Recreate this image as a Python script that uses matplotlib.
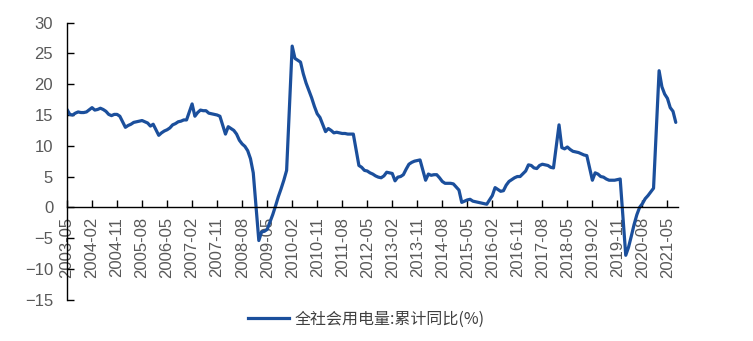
import matplotlib
matplotlib.use('Agg')
import matplotlib.pyplot as plt
from matplotlib.lines import Line2D
from matplotlib.font_manager import FontProperties
import pandas as pd

series_name = '全社会用电量:累计同比(%)'
start_month = '2003-05'
end_month = '2021-08'

# cumulative YoY growth (%), January has no separate value (Jan-Feb combined)
cum_yoy = [
    15.9, 15.1, 15.0, 15.3, 15.5, 15.4, 15.4, 15.5,                     # 2003 May-Dec
    16.2, 15.8, 15.9, 16.1, 15.9, 15.6, 15.1, 14.9, 15.1, 15.1, 14.8,   # 2004
    13.0, 13.3, 13.5, 13.8, 13.9, 14.0, 14.1, 13.9, 13.7, 13.2, 13.5,   # 2005
    11.7, 12.1, 12.4, 12.6, 12.9, 13.4, 13.6, 13.9, 14.0, 14.2, 14.2,   # 2006
    16.8, 14.8, 15.4, 15.8, 15.7, 15.7, 15.3, 15.2, 15.1, 15.0, 14.8,   # 2007
    11.9, 13.1, 12.8, 12.5, 11.9, 10.9, 10.3, 9.9, 9.2, 7.9, 5.6,       # 2008
    -5.4, -4.0, -3.9, -3.6, -2.4, -1.2, 0.2, 1.7, 3.0, 4.4, 6.0,        # 2009
    26.2, 24.2, 23.9, 23.6, 21.7, 20.2, 19.0, 17.8, 16.4, 15.2, 14.6,   # 2010
    12.3, 12.8, 12.5, 12.1, 12.2, 12.1, 12.0, 12.0, 11.9, 11.9, 11.9,   # 2011
    6.8, 6.5, 6.0, 5.9, 5.6, 5.4, 5.1, 4.9, 4.8, 5.1, 5.7,              # 2012
    5.5, 4.3, 4.9, 5.0, 5.3, 6.2, 7.0, 7.3, 7.5, 7.6, 7.7,              # 2013
    4.4, 5.4, 5.2, 5.3, 5.3, 4.8, 4.2, 3.9, 3.9, 3.9, 3.8,              # 2014
    2.8, 0.8, 1.0, 1.2, 1.3, 1.0, 0.9, 0.8, 0.7, 0.6, 0.5,              # 2015
    1.9, 3.2, 2.9, 2.6, 2.7, 3.6, 4.2, 4.5, 4.8, 5.0, 5.0,              # 2016
    5.9, 6.9, 6.8, 6.4, 6.3, 6.8, 7.0, 6.9, 6.8, 6.5, 6.4,              # 2017
    13.4, 9.7, 9.5, 9.8, 9.4, 9.1, 9.0, 8.9, 8.7, 8.5, 8.4,             # 2018
    4.4, 5.6, 5.4, 5.0, 4.9, 4.6, 4.4, 4.4, 4.4, 4.5, 4.6,              # 2019
    -7.8, -6.5, -4.7, -2.8, -1.2, 0.0, 0.6, 1.4, 1.9, 2.5, 3.1,         # 2020
    22.2, 19.6, 18.4, 17.7, 16.2, 15.6, 13.8,                           # 2021 Feb-Aug
]

tick_labels = ['2003-05', '2004-02', '2004-11', '2005-08', '2006-05', '2007-02',
               '2007-11', '2008-08', '2009-05', '2010-02', '2010-11', '2011-08',
               '2012-05', '2013-02', '2013-11', '2014-08', '2015-05', '2016-02',
               '2016-11', '2017-08', '2018-05', '2019-02', '2019-11', '2020-08',
               '2021-05']

p0 = pd.Period(start_month, freq='M')
periods = [p for p in pd.period_range(start_month, end_month, freq='M') if p.month != 1]
x = [(p - p0).n for p in periods]
tick_pos = [(pd.Period(t, freq='M') - p0).n for t in tick_labels]

plt.rcParams['font.family'] = ['Liberation Sans', 'Noto Sans CJK SC', 'DejaVu Sans']

fig = plt.figure(figsize=(7.53, 3.41), dpi=100)
ax = fig.add_axes([0.089, 0.1214, 0.8114, 0.812])

line_color = '#1B4F9C'
ax.plot(x, cum_yoy, color=line_color, lw=2.3, solid_joinstyle='round',
        solid_capstyle='round')

ax.spines['bottom'].set_position(('data', 0))
ax.spines['top'].set_visible(False)
ax.spines['right'].set_visible(False)
for s in ('left', 'bottom'):
    ax.spines[s].set_linewidth(1.0)
    ax.spines[s].set_color('black')

ax.set_xlim(0, 219.8)
ax.set_ylim(-15, 30)
ax.set_yticks(range(-15, 31, 5))
ax.set_xticks(tick_pos)
ax.set_xticklabels(tick_labels)

ax.tick_params(direction='in', length=5, width=1.0, colors='black',
               labelcolor='#595959', labelsize=12)
ax.tick_params(axis='x', pad=7, labelrotation=90)
ax.tick_params(axis='y', pad=10)

handle = Line2D([], [], color=line_color, lw=2.3)
fig.legend([handle], [series_name], loc='center', bbox_to_anchor=(0.486, 0.0645),
           frameon=False, handlelength=2.6, handletextpad=0.3,
           prop=FontProperties(family=['Noto Sans CJK SC', 'DejaVu Sans'], size=11.5),
           labelcolor='#404040')

fig.savefig('out.png', dpi=100)
